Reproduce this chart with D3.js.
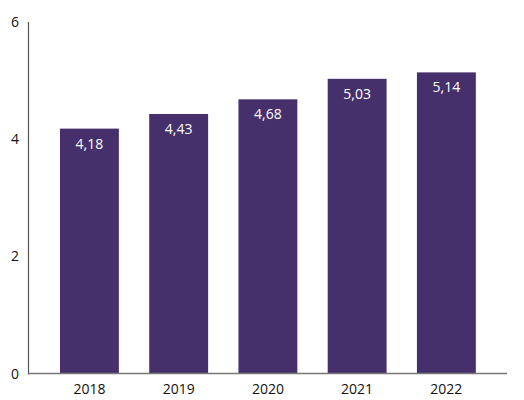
<!DOCTYPE html>
<html><head><meta charset="utf-8">
<script src="https://cdn.jsdelivr.net/npm/d3@7"></script>
<style>body{margin:0;background:#fff}svg{display:block}</style>
</head><body>
<svg id="c" width="524" height="400"></svg>
<script>
const categories = ["2018","2019","2020","2021","2022"];
const values = [4.18, 4.43, 4.68, 5.03, 5.14];
const labels = ["4,18","4,43","4,68","5,03","5,14"];
const yTicks = [0, 2, 4, 6];

const svg = d3.select("#c");
const font = "'Open Sans', sans-serif";
const x = d3.scaleBand().domain(categories).range([44.8, 491]).paddingInner(0.34).paddingOuter(0.17);
const y = d3.scaleLinear().domain([0, 6]).range([373.5, 22]);
const color = "#45306b";

svg.selectAll("rect.bar").data(values).join("rect")
  .attr("class","bar")
  .attr("x",(d,i)=>x(categories[i]))
  .attr("width",x.bandwidth())
  .attr("y",d=>y(d))
  .attr("height",d=>y(0)-y(d))
  .attr("fill",color);

svg.selectAll("text.val").data(values).join("text")
  .attr("class","val")
  .attr("x",(d,i)=>x(categories[i])+x.bandwidth()/2)
  .attr("y",d=>y(d)+20)
  .attr("text-anchor","middle")
  .attr("fill","#fff")
  .attr("font-family",font)
  .attr("font-size",14)
  .text((d,i)=>labels[i]);

// axes lines
svg.append("line").attr("x1",28.5).attr("x2",28.5).attr("y1",y(6)).attr("y2",y(0)+1)
  .attr("stroke","#555").attr("stroke-width",1.2);
svg.append("line").attr("x1",28).attr("x2",507).attr("y1",y(0)).attr("y2",y(0))
  .attr("stroke","#777").attr("stroke-width",1.5);

svg.selectAll("text.yt").data(yTicks).join("text")
  .attr("class","yt")
  .attr("x",19).attr("y",d=>y(d)+5)
  .attr("text-anchor","end")
  .attr("font-family",font).attr("font-size",14).attr("fill","#111")
  .text(d=>d);

svg.selectAll("text.xt").data(categories).join("text")
  .attr("class","xt")
  .attr("x",d=>x(d)+x.bandwidth()/2).attr("y",394)
  .attr("text-anchor","middle")
  .attr("font-family",font).attr("font-size",14).attr("fill","#111")
  .text(d=>d);
</script>
</body></html>
